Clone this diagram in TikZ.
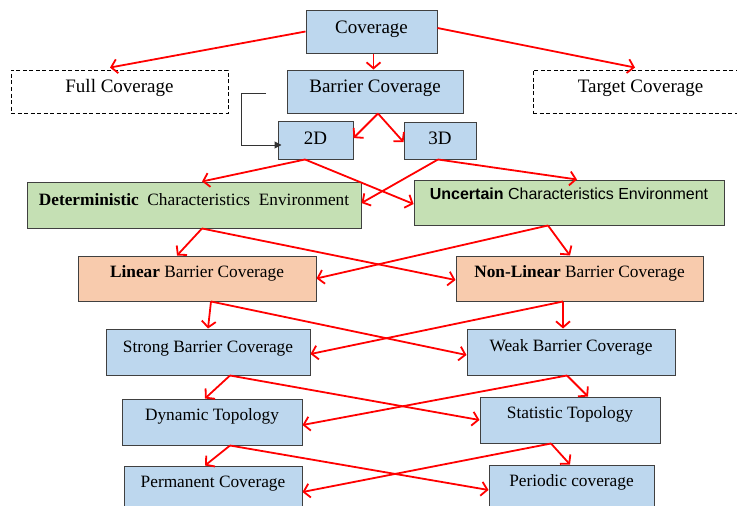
\documentclass[tikz,border=0pt]{standalone}
\usepackage{fontspec}
\setmainfont{Liberation Serif}
\newfontfamily\arialf{Liberation Sans}
\usetikzlibrary{arrows.meta}
\definecolor{bluef}{HTML}{BDD7EE}
\definecolor{greenf}{HTML}{C5E0B4}
\definecolor{orangef}{HTML}{F8CBAD}
\definecolor{edgec}{HTML}{404040}
\tikzset{
  boxbase/.style={draw=edgec, line width=1pt, inner sep=0pt, text height=0pt, text depth=0pt},
  bigtxt/.style={font=\fontsize{19}{22}\selectfont},
  smalltxt/.style={font=\fontsize{17.3}{20}\selectfont},
  bluebox/.style={boxbase, fill=bluef},
  greenbox/.style={boxbase, fill=greenf},
  orangebox/.style={boxbase, fill=orangef},
  dashbox/.style={draw=black, line width=0.9pt, dash pattern=on 4pt off 2.5pt, inner sep=0pt, text height=0pt, text depth=0pt},
  redarrow/.style={draw=red, line width=1.8pt, -{Straight Barb[length=6pt,width=14pt]}},
  blackarrow/.style={draw=black!80, line width=1pt, -{Triangle[length=7pt,width=7pt]}}
}
\begin{document}
\begin{tikzpicture}[x=1pt,y=-1pt]
\useasboundingbox (0,0) rectangle (737,506);
\clip (0,0) rectangle (737,506);
% boxes
\node[bluebox, bigtxt, minimum width=131pt, minimum height=43pt, text height=3pt] (cov) at (371.5,31.5) {Coverage};
\node[dashbox, bigtxt, minimum width=217pt, minimum height=43pt, text height=2pt] (full) at (119.5,91.5) {Full Coverage};
\node[dashbox, bigtxt, minimum width=215pt, minimum height=43pt, text height=2pt] (tgt) at (640.5,91.5) {Target Coverage};
\node[bluebox, bigtxt, minimum width=176pt, minimum height=43pt, text height=2pt] (bar) at (375,91.5) {Barrier Coverage};
\node[bluebox, bigtxt, minimum width=75pt, minimum height=38pt, text height=8pt] (d2) at (315.5,140) {2D};
\node[bluebox, bigtxt, minimum width=72pt, minimum height=37pt, text height=8pt] (d3) at (440,140.5) {3D};
\node[greenbox, smalltxt, minimum width=334pt, minimum height=46pt] (det) at (194,205) {\textbf{Deterministic}\ \ Characteristics\ \ Environment};
\node[greenbox, minimum width=310pt, minimum height=45pt, text depth=7pt, font=\arialf\fontsize{16}{19}\selectfont] (unc) at (569,202.5) {\textbf{Uncertain} Characteristics Environment};
\node[orangebox, smalltxt, minimum width=238pt, minimum height=45pt, text depth=3pt] (lin) at (197,278.5) {\textbf{Linear} Barrier Coverage};
\node[orangebox, smalltxt, minimum width=247pt, minimum height=45pt, text depth=3pt] (nl) at (579.5,278.5) {\textbf{Non-Linear} Barrier Coverage};
\node[bluebox, smalltxt, minimum width=204pt, minimum height=46pt] (str) at (208,352) {Strong Barrier Coverage};
\node[bluebox, smalltxt, minimum width=208pt, minimum height=46pt, text depth=2pt] (weak) at (571,352) {Weak Barrier Coverage};
\node[bluebox, smalltxt, minimum width=180pt, minimum height=46pt, text depth=4pt] (dyn) at (212,422) {Dynamic Topology};
\node[bluebox, smalltxt, minimum width=180pt, minimum height=46pt, text depth=4pt] (stat) at (570,420) {Statistic Topology};
\node[bluebox, smalltxt, minimum width=178pt, minimum height=46pt, text depth=4pt] (perm) at (213,489) {Permanent Coverage};
\node[bluebox, smalltxt, minimum width=165pt, minimum height=46pt, text depth=4pt] (per) at (571.5,488) {Periodic coverage};
% black connector
\coordinate (bs) at (266,93);
\draw[blackarrow] (bs) -- ++(-25,0) |- ([xshift=4pt,yshift=-5pt]d2.west);
% red arrows
\draw[redarrow] (cov.west) -- ([xshift=-9.5pt,yshift=2pt]full.north);
\draw[redarrow] ([xshift=2pt]cov.south) -- ([xshift=-1.5pt]bar.north);
\draw[redarrow] ([yshift=3.5pt]cov.east) -- ([xshift=-5.5pt,yshift=2pt]tgt.north);
\draw[redarrow] ([xshift=3pt]bar.south) -- ([yshift=2pt]d2.east);
\draw[redarrow] ([xshift=3pt]bar.south) -- ([yshift=-1.5pt]d3.west);
\draw[redarrow] ([xshift=-10.5pt]d2.south) -- ([xshift=8pt]det.north);
\draw[redarrow] ([xshift=-10.5pt]d2.south) -- ([yshift=-1.5pt]unc.west);
\draw[redarrow] ([xshift=-2pt]d3.south) -- ([yshift=2pt]det.east);
\draw[redarrow] ([xshift=-2pt]d3.south) -- ([xshift=8pt]unc.north);
\draw[redarrow] ([xshift=8pt]det.south) -- ([xshift=-20pt]lin.north);
\draw[redarrow] ([xshift=8pt]det.south) -- ([yshift=-1.5pt]nl.west);
\draw[redarrow] ([xshift=-21pt]unc.south) -- (lin.east);
\draw[redarrow] ([xshift=-21pt]unc.south) -- ([xshift=-9.5pt]nl.north);
\draw[redarrow] ([xshift=14pt]lin.south) -- (str.north);
\draw[redarrow] ([xshift=14pt]lin.south) -- ([yshift=-3pt]weak.west);
\draw[redarrow] ([xshift=-16.5pt]nl.south) -- ([yshift=-2pt]str.east);
\draw[redarrow] ([xshift=-16.5pt]nl.south) -- ([xshift=-8pt]weak.north);
\draw[redarrow] ([xshift=22pt]str.south) -- ([xshift=-7pt]dyn.north);
\draw[redarrow] ([xshift=22pt]str.south) -- (stat.west);
\draw[redarrow] ([xshift=-4pt]weak.south) -- ([yshift=-3pt]dyn.east);
\draw[redarrow] ([xshift=-4pt]weak.south) -- ([xshift=18pt]stat.north);
\draw[redarrow] ([xshift=18pt]dyn.south) -- ([xshift=-8pt]perm.north);
\draw[redarrow] ([xshift=18pt]dyn.south) -- ([yshift=-2pt]per.west);
\draw[redarrow] ([xshift=-19pt]stat.south) -- ([yshift=-3pt]perm.east);
\draw[redarrow] ([xshift=-19pt]stat.south) -- ([xshift=-1.5pt]per.north);
\end{tikzpicture}
\end{document}
